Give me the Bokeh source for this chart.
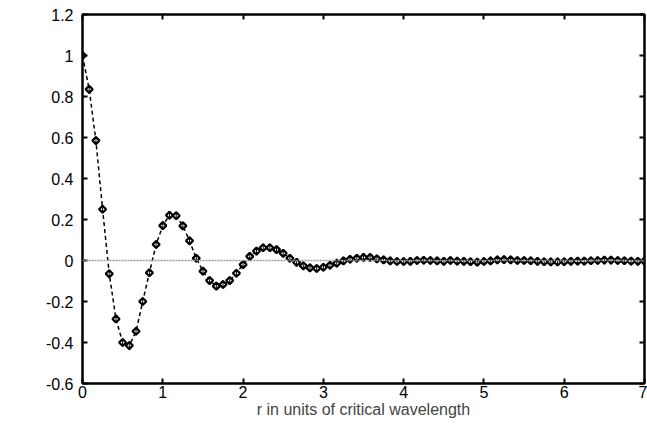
import math
from bokeh.plotting import figure
from bokeh.models import LinearAxis, FixedTicker, Span, Label, Range1d
from bokeh.embed import file_html
from bokeh.resources import INLINE

r_vals = [0.000, 0.083, 0.167, 0.250, 0.333, 0.417, 0.500, 0.583, 0.667, 0.750,
          0.833, 0.917, 1.000, 1.083, 1.167, 1.250, 1.333, 1.417, 1.500, 1.583,
          1.667, 1.750, 1.833, 1.917, 2.000, 2.083, 2.167, 2.250, 2.333, 2.417,
          2.500, 2.583, 2.667, 2.750, 2.833, 2.917, 3.000, 3.083, 3.167, 3.250,
          3.333, 3.417, 3.500, 3.583, 3.667, 3.750, 3.833, 3.917, 4.000, 4.083,
          4.167, 4.250, 4.333, 4.417, 4.500, 4.583, 4.667, 4.750, 4.833, 4.917,
          5.000, 5.083, 5.167, 5.250, 5.333, 5.417, 5.500, 5.583, 5.667, 5.750,
          5.833, 5.917, 6.000, 6.083, 6.167, 6.250, 6.333, 6.417, 6.500, 6.583,
          6.667, 6.750, 6.833, 6.917, 7.000]
c_vals = [1.000, 0.835, 0.585, 0.250, -0.065, -0.285, -0.400, -0.415, -0.345, -0.200,
          -0.060, 0.078, 0.170, 0.221, 0.218, 0.169, 0.096, 0.011, -0.052, -0.098,
          -0.125, -0.117, -0.098, -0.062, -0.020, 0.020, 0.046, 0.062, 0.062, 0.053,
          0.035, 0.011, -0.009, -0.026, -0.036, -0.039, -0.033, -0.023, -0.013, -0.002,
          0.006, 0.011, 0.015, 0.015, 0.008, 0.003, -0.002, -0.005, -0.005, -0.004,
          0.000, 0.001, 0.000, -0.002, -0.004, 0.000, -0.003, -0.004, -0.006, -0.008,
          -0.005, -0.002, 0.003, 0.004, 0.003, 0.000, 0.000, -0.001, -0.004, -0.006,
          -0.007, -0.007, -0.006, -0.004, -0.003, -0.003, -0.001, 0.000, 0.002, 0.002,
          0.000, -0.001, -0.003, -0.004, -0.003]
err_vals = [0.02] * len(r_vals)

x_ticks = [0, 1, 2, 3, 4, 5, 6, 7]
y_ticks = [-0.6, -0.4, -0.2, 0, 0.2, 0.4, 0.6, 0.8, 1.0, 1.2]
y_tick_labels = ["-0.6", "-0.4", "-0.2", "0", "0.2", "0.4", "0.6", "0.8", "1", "1.2"]

FONT = "Liberation Sans"

p = figure(width=647, height=424, output_backend="svg", toolbar_location=None,
           x_range=Range1d(0, 7), y_range=Range1d(-0.6, 1.2),
           min_border_left=82, min_border_right=3, min_border_top=14, min_border_bottom=41,
           x_axis_location=None, y_axis_location=None)
p.grid.visible = False
p.outline_line_color = "black"
p.outline_line_width = 2
p.background_fill_color = "white"
p.border_fill_color = "white"


def style_axis(ax, ticks, labels=True):
    ax.ticker = FixedTicker(ticks=ticks)
    ax.minor_tick_line_color = None
    ax.major_tick_in = 5
    ax.major_tick_out = 0
    ax.major_tick_line_width = 2
    ax.major_tick_line_color = "black"
    ax.axis_line_width = 2
    ax.axis_line_color = "black"
    ax.major_label_text_font = FONT
    if labels:
        ax.major_label_text_font_size = "16px"
        ax.major_label_text_color = "black"
    else:
        ax.major_label_text_font_size = "0px"
        ax.major_label_text_color = None
        ax.major_label_standoff = 0


bx = LinearAxis(axis_label="r in units of critical wavelength")
style_axis(bx, x_ticks)
bx.major_label_standoff = 2
bx.axis_label_standoff = 0
bx.axis_label_text_font = FONT
bx.axis_label_text_font_size = "16px"
bx.axis_label_text_font_style = "normal"
p.add_layout(bx, "below")

ly = LinearAxis()
style_axis(ly, y_ticks)
ly.major_label_overrides = {t: s for t, s in zip(y_ticks, y_tick_labels)}
ly.major_label_standoff = 9
p.add_layout(ly, "left")

tx = LinearAxis()
style_axis(tx, x_ticks, labels=False)
p.add_layout(tx, "above")

ry = LinearAxis()
style_axis(ry, y_ticks, labels=False)
p.add_layout(ry, "right")

p.add_layout(Span(location=0, dimension="width", line_color="#9a9a9a",
                  line_width=1.5, line_dash="2 1"))

p.line(r_vals, c_vals, line_color="black", line_width=1.5, line_dash="4 3")
p.scatter(r_vals, c_vals, marker="square", angle=math.pi / 4, size=5,
          fill_color="white", line_color="black", line_width=2.2)
lo = [c - e for c, e in zip(c_vals, err_vals)]
hi = [c + e for c, e in zip(c_vals, err_vals)]
p.segment(x0=r_vals, y0=lo, x1=r_vals, y1=hi, line_color="black", line_width=1)

p.add_layout(Label(x=0, y=0.356, x_offset=-74, text="C(r)", text_font=FONT,
                   text_font_size="16px", text_baseline="middle", text_align="left",
                   text_color="black"))

open("out.html", "w").write(file_html(p, INLINE))
